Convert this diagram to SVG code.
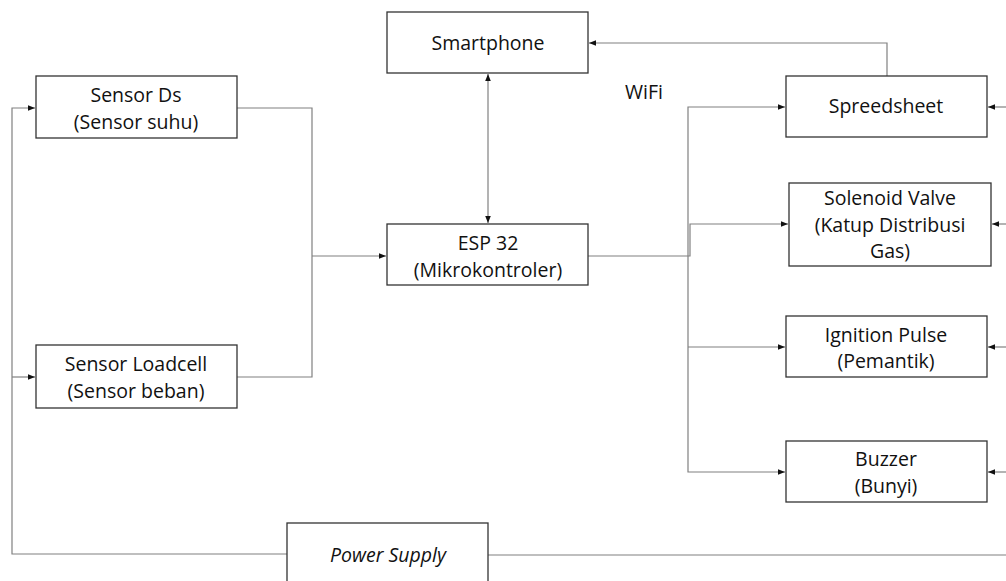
<svg xmlns="http://www.w3.org/2000/svg" width="1006" height="581" viewBox="0 0 1006 581">
<style>
.box{fill:#fff;stroke:#333;stroke-width:1.3}
.ln{fill:none;stroke:#808080;stroke-width:1.2}
text{font-family:"Open Sans","Liberation Sans",sans-serif;font-size:19.5px;fill:#111;text-anchor:middle}
</style>
<defs>
<marker id="ah" viewBox="0 0 10 10" refX="10" refY="5" markerWidth="7" markerHeight="7" markerUnits="userSpaceOnUse" orient="auto-start-reverse">
<path d="M0,1 L10,5 L0,9 z" fill="#111"/>
</marker>
</defs>
<g id="connectors">
<path class="ln" d="M237,108 H312 V377 H237"/>
<path class="ln" d="M312,256 H386" marker-end="url(#ah)"/>
<path class="ln" d="M488,74 V223" marker-start="url(#ah)" marker-end="url(#ah)"/>
<path class="ln" d="M887,76 V43 H589" marker-end="url(#ah)"/>
<path class="ln" d="M588,256 H690 V224 H788" marker-end="url(#ah)"/>
<path class="ln" d="M785,107 H688 V472 H785" marker-start="url(#ah)" marker-end="url(#ah)"/>
<path class="ln" d="M688,347 H785" marker-end="url(#ah)"/>
<path class="ln" d="M287,554 H12 V108 H35" marker-end="url(#ah)"/>
<path class="ln" d="M12,377 H35" marker-end="url(#ah)"/>
<path class="ln" stroke="#444" d="M488,555 H1006"/>
<path class="ln" d="M1006,107 H988" marker-end="url(#ah)"/>
<path class="ln" d="M1006,224 H992" marker-end="url(#ah)"/>
<path class="ln" d="M1006,347 H988" marker-end="url(#ah)"/>
<path class="ln" d="M1006,472 H988" marker-end="url(#ah)"/>
</g>
<g id="wifi"><text x="644" y="99">WiFi</text></g>
<g id="sensor-ds"><rect class="box" x="36" y="76" width="201" height="62"/><text x="136" y="102">Sensor Ds</text><text x="136" y="129">(Sensor suhu)</text></g>
<g id="sensor-loadcell"><rect class="box" x="36" y="345" width="201" height="63"/><text x="136" y="371">Sensor Loadcell</text><text x="136" y="398">(Sensor beban)</text></g>
<g id="smartphone"><rect class="box" x="387" y="12" width="201" height="61"/><text x="488" y="50">Smartphone</text></g>
<g id="esp32"><rect class="box" x="387" y="224" width="201" height="61"/><text x="488" y="250">ESP 32</text><text x="488" y="277">(Mikrokontroler)</text></g>
<g id="spreadsheet"><rect class="box" x="786" y="76" width="201" height="61"/><text x="886" y="113">Spreedsheet</text></g>
<g id="solenoid"><rect class="box" x="789" y="183" width="202" height="83"/><text x="890" y="205">Solenoid Valve</text><text x="890" y="232">(Katup Distribusi</text><text x="890" y="258">Gas)</text></g>
<g id="ignition"><rect class="box" x="786" y="316" width="201" height="61"/><text x="886" y="342">Ignition Pulse</text><text x="886" y="368">(Pemantik)</text></g>
<g id="buzzer"><rect class="box" x="786" y="441" width="201" height="61"/><text x="886" y="466">Buzzer</text><text x="886" y="493">(Bunyi)</text></g>
<g id="power-supply"><rect class="box" x="287" y="523" width="201" height="70"/><text x="388" y="562" font-style="italic">Power Supply</text></g>
</svg>
